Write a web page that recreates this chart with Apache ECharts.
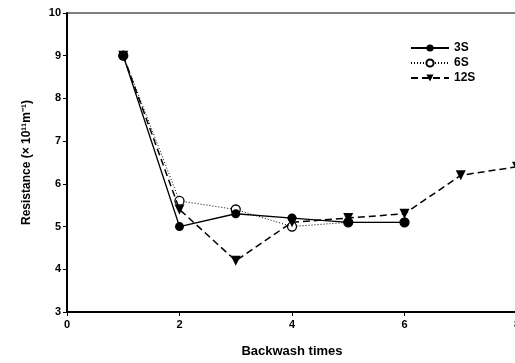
<!DOCTYPE html>
<html>
<head>
<meta charset="utf-8">
<script src="https://cdn.jsdelivr.net/npm/echarts@6/dist/echarts.min.js"></script>
<style>html,body{margin:0;padding:0;background:#fff;overflow:hidden;}#chart{width:525px;height:363px;}</style>
</head>
<body>
<div id="chart"></div>
<script>
var chart = echarts.init(document.getElementById('chart'));

// backwash times and resistance values (x 10^11 m^-1)
var times3s = [1, 2, 3, 4, 5, 6];
var res3s = [9, 5.0, 5.3, 5.2, 5.1, 5.1];
var times6s = [1, 2, 3, 4, 5, 6];
var res6s = [9, 5.6, 5.4, 5.0, 5.1, 5.1];
var times12s = [1, 2, 3, 4, 5, 6, 7, 8];
var res12s = [9, 5.4, 4.2, 5.1, 5.2, 5.3, 6.2, 6.4];

function pairs(xs, ys) {
  return xs.map(function (x, i) { return [x, ys[i]]; });
}

var font = 'Liberation Sans, Arial, sans-serif';

var option = {
  animation: false,
  backgroundColor: '#fff',
  grid: {
    left: 67, top: 13, width: 450, bottom: 51,
    show: true, borderColor: '#000', borderWidth: 1
  },
  legend: {
    orient: 'vertical',
    left: 405, top: 37,
    itemWidth: 38, itemHeight: 9, itemGap: 3,
    textStyle: { color: '#000', fontFamily: font, fontWeight: 'bold', fontSize: 12 },
    data: ['3S', '6S', '12S']
  },
  xAxis: {
    type: 'value', min: 0, max: 8, interval: 2,
    name: 'Backwash times', nameLocation: 'middle', nameGap: 33,
    nameTextStyle: { color: '#000', fontFamily: font, fontWeight: 'bold', fontSize: 13 },
    axisLine: { lineStyle: { color: '#000', width: 2 } },
    axisTick: { show: true, length: 4, lineStyle: { color: '#000' } },
    axisLabel: { color: '#000', fontFamily: font, fontWeight: 'bold', fontSize: 11, margin: 7 },
    splitLine: { show: false }
  },
  yAxis: {
    type: 'value', min: 3, max: 10, interval: 1,
    name: 'Resistance (× 10¹¹m⁻¹)', nameLocation: 'middle', nameGap: 34, nameRotate: 90,
    nameTextStyle: { color: '#000', fontFamily: font, fontWeight: 'bold', fontSize: 12 },
    axisLine: { lineStyle: { color: '#000', width: 2 } },
    axisTick: { show: true, length: 4, lineStyle: { color: '#000' } },
    axisLabel: { color: '#000', fontFamily: font, fontWeight: 'bold', fontSize: 11, margin: 6 },
    splitLine: { show: false }
  },
  series: [
    {
      name: '3S', type: 'line', data: pairs(times3s, res3s), z: 3,
      symbol: 'circle', symbolSize: 9,
      itemStyle: { color: '#000' },
      lineStyle: { color: '#000', width: 1.3, type: 'solid' }
    },
    {
      name: '6S', type: 'line', data: pairs(times6s, res6s), z: 2,
      symbol: 'circle', symbolSize: 9,
      itemStyle: { color: '#fff', borderColor: '#000', borderWidth: 1.3 },
      lineStyle: { color: '#000', width: 1, type: [1, 2] }
    },
    {
      name: '12S', type: 'line', data: pairs(times12s, res12s), z: 4,
      symbol: 'triangle', symbolRotate: 180, symbolSize: 10,
      itemStyle: { color: '#000' },
      lineStyle: { color: '#000', width: 1.5, type: [7, 4] }
    }
  ]
};

chart.setOption(option);
</script>
</body>
</html>
